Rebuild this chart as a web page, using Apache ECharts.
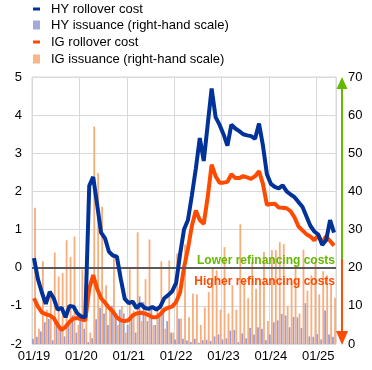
<!DOCTYPE html>
<html><head><meta charset="utf-8">
<script src="https://cdn.jsdelivr.net/npm/echarts@6/dist/echarts.min.js"></script>
<style>html,body{margin:0;padding:0;background:#fff}#c{width:372px;height:370px}</style>
</head><body><div id="c"></div>
<script>
const categories = [
'01/19','02/19','03/19','04/19','05/19','06/19','07/19','08/19','09/19','10/19','11/19','12/19',
'01/20','02/20','03/20','04/20','05/20','06/20','07/20','08/20','09/20','10/20','11/20','12/20',
'01/21','02/21','03/21','04/21','05/21','06/21','07/21','08/21','09/21','10/21','11/21','12/21',
'01/22','02/22','03/22','04/22','05/22','06/22','07/22','08/22','09/22','10/22','11/22','12/22',
'01/23','02/23','03/23','04/23','05/23','06/23','07/23','08/23','09/23','10/23','11/23','12/23',
'01/24','02/24','03/24','04/24','05/24','06/24','07/24','08/24','09/24','10/24','11/24','12/24',
'01/25','02/25','03/25','04/25','05/25'];

const hyRollover = [
0.25,-0.3,-0.65,-0.95,-0.63,-0.8,-1.1,-1.05,-1.3,-1.0,-1.02,-1.2,
-1.28,-1.3,2.15,2.38,1.65,0.92,0.77,0.42,0.32,0.29,-0.3,-0.82,
-0.93,-0.89,-1.06,-0.95,-1.05,-1.08,-1.03,-1.1,-1.02,-0.8,-0.72,-0.62,
-0.4,0.35,1.0,1.25,1.9,2.6,3.4,2.8,3.75,4.7,3.95,3.75,
3.5,3.2,3.75,3.65,3.58,3.5,3.47,3.45,3.38,3.78,3.2,2.45,
2.2,2.12,2.08,2.16,2.0,1.92,1.85,1.72,1.6,1.35,1.1,0.95,
0.87,0.6,0.72,1.25,0.92];

const igRollover = [
-0.8,-1.02,-1.17,-1.22,-1.25,-1.32,-1.5,-1.63,-1.55,-1.42,-1.33,-1.32,
-1.35,-1.38,-0.55,-0.19,-0.55,-0.8,-0.92,-1.05,-1.15,-1.3,-1.38,-1.4,
-1.37,-1.25,-1.2,-1.18,-1.2,-1.24,-1.3,-1.3,-1.22,-1.1,-1.05,-1.02,
-0.9,-0.65,0.0,0.5,1.1,1.5,1.25,1.15,1.85,2.7,2.4,2.23,
2.23,2.25,2.45,2.35,2.35,2.4,2.37,2.33,2.4,2.53,2.2,1.65,
1.67,1.68,1.58,1.57,1.56,1.48,1.32,1.08,0.98,0.88,0.82,0.72,
0.85,0.66,0.82,0.7,0.58];

const hyIssuance = [
1.4,1.9,3.3,5.7,6.6,1,5.7,4,2,5,7.5,3,
6,4,0.5,1.5,6.5,9.5,8,5,10,7,9,8,
5,7,3,12.5,11,6,9,5,7.5,8.5,6,3,
1.2,6.6,1.4,0.9,0.5,1.4,0.3,1,1.1,0.8,2,2.5,
1.2,1.5,3.5,3.7,0.5,2.8,1.5,4.2,2.5,4.4,4,1,
2.5,5.7,6.2,7.9,7.5,4.4,7.1,7,4.2,10.7,2,1.9,
2.6,1.2,8.8,2.5,1.9];

const igIssuance = [
35.7,4,21.7,9,14,24,17.7,18.6,27.2,22.8,28.2,5,
19.5,12,3,57,44.8,36,15.4,9,23,5,10,3,
19.6,8.7,29.3,6,17,27.4,5,10,21.7,4,21.9,3,
23.7,6.7,26.1,7,13.2,13,5,9.6,13.6,20.2,19.3,9,
25.4,8,15.4,9,31.4,16.7,12,21.5,14.5,16,24.1,6,
24.6,24.6,26.7,26.2,10,16.2,20.6,8,24.7,14,18,21.5,
13,19.1,18,15.6,12.1];

const leftTicks = {min:-2, max:5, interval:1};
const rightTicks = {min:0, max:70, interval:10};

const FONT = '"Liberation Sans", Arial, sans-serif';
const C_HY = '#003299', C_HYI = '#979dd8', C_IG = '#ff4b00', C_IGI = '#f8ad7c', C_GREEN = '#65b800';

// right-axis value that sits at the left-axis zero
const zeroOnRight = rightTicks.min + (0 - leftTicks.min) / (leftTicks.max - leftTicks.min) * (rightTicks.max - rightTicks.min);

const chart = echarts.init(document.getElementById('c'));

function leg(name, top, h, color) {
  return {
    data: [{name: name, icon: 'rect', itemStyle: {color: color}}], left: 33, top: top, padding: 0,
    itemWidth: 7, itemHeight: h, selectedMode: false,
    textStyle: {fontFamily: FONT, fontSize: 13, color: '#000', lineHeight: 16, padding: [0,0,0,6]}
  };
}

chart.setOption({
  animation: false,
  textStyle: {fontFamily: FONT},
  legend: [
    leg('HY rollover cost', 1, 3, C_HY),
    leg('HY issuance (right-hand scale)', 17, 9, '#a3a8dd'),
    leg('IG rollover cost', 34, 3, C_IG),
    leg('IG issuance (right-hand scale)', 51, 9, '#f9b487')
  ],
  grid: {left: 32, right: 36, top: 77, bottom: 26, show: true, borderColor: '#d9d9d9', borderWidth: 1},
  xAxis: {
    type: 'category', data: categories, boundaryGap: true,
    axisLine: {show: false}, axisTick: {show: false},
    axisLabel: {interval: 11, margin: 6, fontSize: 13, color: '#000', fontFamily: FONT},
    splitLine: {show: true, interval: 11, lineStyle: {color: '#d9d9d9', width: 1}}
  },
  yAxis: [
    {type: 'value', min: leftTicks.min, max: leftTicks.max, interval: leftTicks.interval,
     axisLine: {show: false}, axisTick: {show: false},
     axisLabel: {margin: 10, fontSize: 13, color: '#000', fontFamily: FONT},
     splitLine: {lineStyle: {color: '#d9d9d9', width: 1}}},
    {type: 'value', position: 'right', min: rightTicks.min, max: rightTicks.max, interval: rightTicks.interval,
     axisLine: {show: false}, axisTick: {show: false},
     axisLabel: {margin: 12, fontSize: 13, color: '#000', fontFamily: FONT},
     splitLine: {show: false}}
  ],
  series: [
    {name: 'HY issuance (right-hand scale)', type: 'bar', yAxisIndex: 1, data: hyIssuance,
     barWidth: 1.8, barGap: '15%', itemStyle: {color: C_HYI}, z: 2},
    {name: 'IG issuance (right-hand scale)', type: 'bar', yAxisIndex: 1, data: igIssuance,
     barWidth: 1.8, barGap: '15%', itemStyle: {color: C_IGI}, z: 2,
     markLine: {silent: true, symbol: 'none', label: {show: false},
       lineStyle: {color: '#595959', width: 2, type: 'solid'},
       data: [{yAxis: zeroOnRight}], animation: false}},
    {name: 'IG rollover cost', type: 'line', yAxisIndex: 0, data: igRollover,
     showSymbol: false, symbol: 'none', lineStyle: {color: C_IG, width: 4}, itemStyle: {color: C_IG}, z: 4},
    {name: 'HY rollover cost', type: 'line', yAxisIndex: 0, data: hyRollover,
     showSymbol: false, symbol: 'none', lineStyle: {color: C_HY, width: 4}, itemStyle: {color: C_HY}, z: 5}
  ]
});

// right-axis markings and annotations
const yTop = chart.convertToPixel({yAxisIndex: 1}, 70);
const yBot = chart.convertToPixel({yAxisIndex: 1}, 0);
const yMid = chart.convertToPixel({yAxisIndex: 1}, 22.3);
const y0 = chart.convertToPixel({yAxisIndex: 0}, 0);
const xRight = chart.convertToPixel({xAxisIndex: 0}, categories.length - 1) + 2;
const ax = xRight + 6;
chart.setOption({
  graphic: [
    {type: 'line', z: 10, shape: {x1: ax, y1: yMid, x2: ax, y2: yTop + 11}, style: {stroke: C_GREEN, lineWidth: 2}},
    {type: 'polygon', z: 10, shape: {points: [[ax - 5.5, yTop + 12], [ax + 5.5, yTop + 12], [ax, yTop]]}, style: {fill: C_GREEN}},
    {type: 'line', z: 10, shape: {x1: ax, y1: yMid, x2: ax, y2: yBot - 11}, style: {stroke: C_IG, lineWidth: 2}},
    {type: 'polygon', z: 10, shape: {points: [[ax - 6, yBot - 13], [ax + 6, yBot - 13], [ax, yBot + 1]]}, style: {fill: C_IG}},
    {type: 'text', z: 20, x: xRight - 1, y: y0 - 7, style: {text: 'Lower refinancing costs', fill: C_GREEN,
      font: 'bold 12px ' + FONT, textAlign: 'right', textVerticalAlign: 'middle'}},
    {type: 'text', z: 20, x: xRight - 1, y: y0 + 14, style: {text: 'Higher refinancing costs', fill: C_IG,
      font: 'bold 12px ' + FONT, textAlign: 'right', textVerticalAlign: 'middle'}}
  ]
});
</script>
</body></html>
